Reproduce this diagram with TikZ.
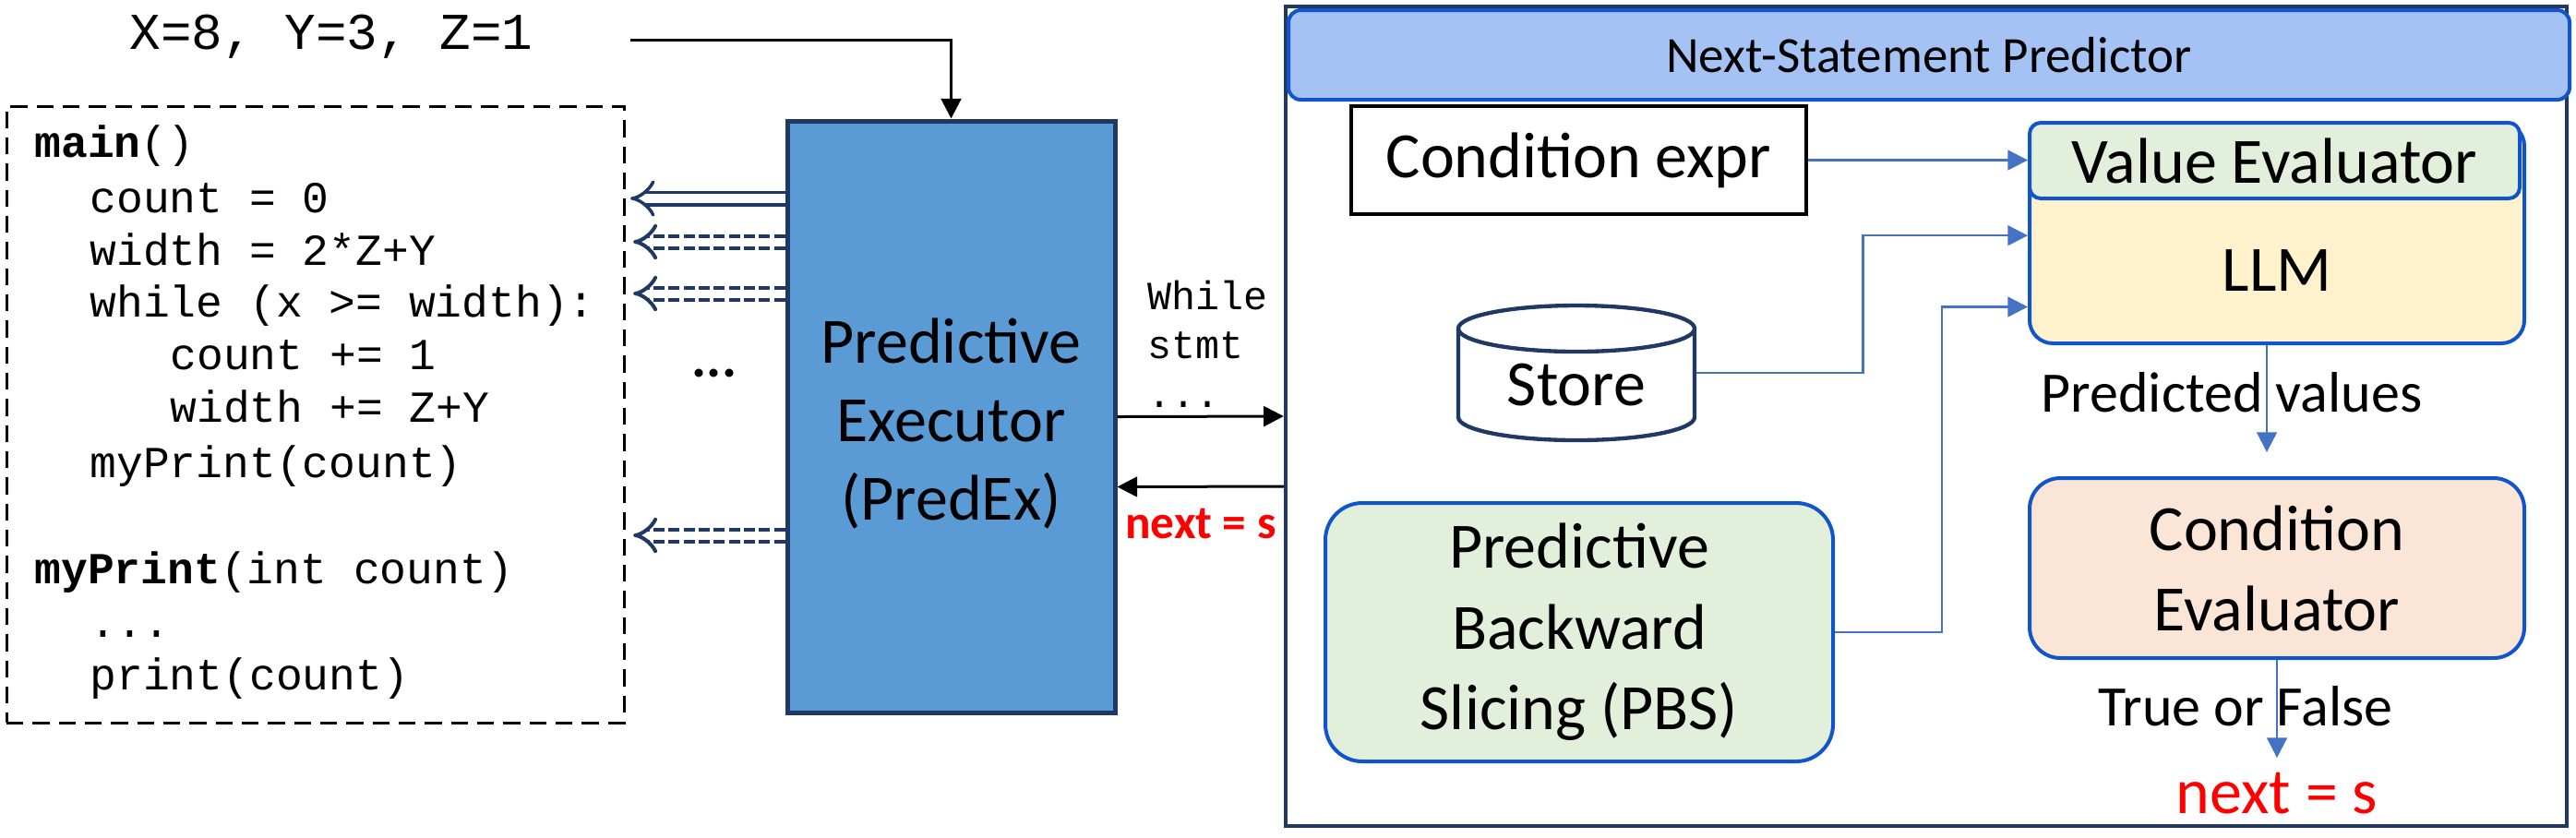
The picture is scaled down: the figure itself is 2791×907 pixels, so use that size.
\documentclass[tikz,border=0pt]{standalone}
\usepackage{fontspec}
\setmainfont{Carlito}
\setmonofont{Liberation Mono}
\usetikzlibrary{arrows.meta}

\definecolor{navyline}{HTML}{1F3864}
\definecolor{predexblue}{HTML}{5B9BD5}
\definecolor{edgeblue}{HTML}{1155CC}
\definecolor{headblue}{HTML}{A4C2F4}
\definecolor{valgreen}{HTML}{E2EFDA}
\definecolor{llmyellow}{HTML}{FFF2CC}
\definecolor{condpeach}{HTML}{FBE5D6}
\definecolor{flowblue}{HTML}{4472C4}

\tikzset{every picture/.style={line width=0.9pt}}
\tikzset{
  mainfont/.style={font=\fontsize{21}{25.5}\selectfont},
  notefont/.style={font=\fontsize{18.6}{22}\selectfont},
  codeline/.style={anchor=base west, inner sep=0pt, font=\ttfamily\fontsize{14.4}{17.3}\selectfont},
  stmtline/.style={anchor=base west, inner sep=0pt, font=\ttfamily\fontsize{13}{15}\selectfont},
  blkarrow/.style={draw=black, line width=0.9pt, -{Triangle[length=6.5pt,width=6.5pt]}},
  flowarrow/.style={draw=flowblue, line width=0.7pt, -{Triangle[length=6.5pt,width=6.5pt]}},
  callarrow/.style={draw=navyline, double=white, double distance=3pt, line width=1.05pt, -{Implies[length=6pt,width=13pt]}},
  dashcall/.style={callarrow, line width=1.2pt, double distance=2.7pt, dash pattern=on 3.6pt off 1.3pt},
  codebox/.style={draw=black, dash pattern=on 5.5pt off 3pt, minimum width=200.7pt, minimum height=200.4pt},
  predexbox/.style={draw=navyline, line width=1.5pt, fill=predexblue, minimum width=106.5pt, minimum height=192.3pt, align=center, mainfont, inner sep=0pt},
  nspbox/.style={draw=navyline, line width=1.3pt, minimum width=416.4pt, minimum height=266.4pt},
  headbox/.style={draw=edgeblue, line width=1.2pt, fill=headblue, rounded corners=4pt, minimum width=416.4pt, minimum height=29.1pt, font=\fontsize{16.5}{20}\selectfont},
  exprbox/.style={draw=black, line width=1.2pt, minimum width=147.9pt, minimum height=35.1pt, mainfont},
  llmbox/.style={draw=edgeblue, line width=1.2pt, fill=llmyellow, rounded corners=7.5pt, minimum width=160.8pt, minimum height=71.7pt},
  valbox/.style={draw=edgeblue, line width=1.2pt, fill=valgreen, rounded corners=3.6pt, minimum width=159.3pt, minimum height=24.6pt, mainfont},
  storebody/.style={inner sep=0pt, minimum width=76.8pt, minimum height=43.8pt},
  storeline/.style={draw=navyline, line width=1.3pt, fill=white},
  pbsbox/.style={draw=edgeblue, line width=1.2pt, fill=valgreen, rounded corners=12pt, minimum width=165pt, minimum height=84pt, align=center, font=\fontsize{21}{26.2}\selectfont},
  condbox/.style={draw=edgeblue, line width=1.2pt, fill=condpeach, rounded corners=10pt, minimum width=160.8pt, minimum height=58.5pt, align=center, font=\fontsize{21}{26.1}\selectfont}
}

\begin{document}
\begin{tikzpicture}[x=0.3pt,y=0.3pt,yscale=-1,xscale=1]
        \useasboundingbox (0,0) rectangle (2791,907);

        % Input values
        \node[anchor=base west, inner sep=0pt, font=\ttfamily\fontsize{16.8}{20}\selectfont] (inputs) at (139,53) {X=8, Y=3, Z=1};

        % Program listing
        \node[codebox] (code) at (341.5,449) {};
        \foreach \ypos/\xpos/\txt [count=\i] in {170/36/{\textbf{main}()}, 230/96/{count = 0}, 287/96/{width = 2*Z+Y}, 343/96/{while (x >= width):}, 400/183/{count += 1}, 457/183/{width += Z+Y}, 517/96/{myPrint(count)}, 632/36/{\textbf{myPrint}(int count)}, 747/96/{print(count)}}
          \node[codeline] (line\i) at (\xpos,\ypos) {\txt};
        \node[codeline] (linedots) at (96,690) {...};

        % Predictive Executor
        \node[predexbox] (predex) at (1030.5,451.5) {\rule{0pt}{18.8pt}Predictive\\Executor\\(PredEx)};

        %Straight Lines: inputs to PredEx
        \coordinate (inputstart) at (683,43);
        \draw[blkarrow] (inputstart) -| (predex.north);

        %Double Arrows: PredEx to statements
        \coordinate (call1) at (683,215);
        \coordinate (call2) at (686,262);
        \coordinate (call3) at (686,318);
        \coordinate (call4) at (686,580);
        \draw[callarrow] (predex.west |- call1) -- (call1);
        \draw[dashcall] (predex.west |- call2) -- (call2);
        \draw[dashcall] (predex.west |- call3) -- (call3);
        \draw[dashcall] (predex.west |- call4) -- (call4);
        \node[font=\bfseries\fontsize{18}{20}\selectfont] (gapdots) at (774,404) {...};

        % Next-Statement Predictor
        \node[nspbox] (nsp) at (2087,451) {};
        \node[headbox] (head) at (2090,59.5) {Next-Statement Predictor};
        \node[exprbox] (condexpr) at (1710.5,173.5) {Condition expr};
        \node[llmbox] (llm) at (2467,252.5) {};
        \node[valbox] (valeval) at (2464.5,174) {Value Evaluator};
        \node[mainfont] (llmtext) at (2467,293) {LLM};

        %Shape: Can
        \node[storebody] (store) at (1708,404) {};
        \draw[storeline] (1580,356) -- (1580,452) arc[start angle=180, end angle=0, x radius=128, y radius=25] -- (1836,356);
        \draw[storeline] (1708,356) ellipse [x radius=128, y radius=25];
        \node[mainfont] (storetext) at (1708,417) {Store};

        \node[pbsbox] (pbs) at (1711,685) {Predictive\\Backward\\Slicing (PBS)};
        \node[condbox] (condeval) at (2467,615.5) {Condition\\Evaluator};
        \node[notefont] (predvals) at (2418,425) {Predicted values};
        \node[notefont] (truefalse) at (2433,765) {True or False};
        \node[mainfont, text=red, inner sep=0pt] (nexts) at (2467,860) {next = s};

        %Connectors inside predictor
        \draw[flowarrow] (condexpr.east) -- (condexpr.east -| valeval.west);
        \draw[flowarrow] (store.east) -- ++(181,0) |- ([yshift=0.8pt]llm.west);
        \draw[flowarrow] (pbs.east) -- ++(116,0) |- ([yshift=24pt]llm.west);
        \draw[flowarrow, shorten >=7.8pt] ([xshift=-3.3pt]llm.south) -- ([xshift=-3.3pt]condeval.north);
        \draw[flowarrow, shorten >=4.5pt] (condeval.south) -- (condeval.south |- nexts.north);

        %Connectors PredEx <-> predictor
        \draw[blkarrow] (predex.east) -- (nsp.west);
        \draw[blkarrow] ([yshift=22.8pt]nsp.west) -- ([yshift=22.8pt]predex.east);

        % Text Node
        \node[stmtline] (stmt1) at (1242,335) {While};
        \node[stmtline] (stmt2) at (1242,388) {stmt};
        \node[stmtline] (stmt3) at (1242,441) {...};
        % Text Node
        \node[font=\bfseries\fontsize{15.4}{18}\selectfont, text=red] (nextleft) at (1301,567) {next = s};
\end{tikzpicture}
\end{document}
